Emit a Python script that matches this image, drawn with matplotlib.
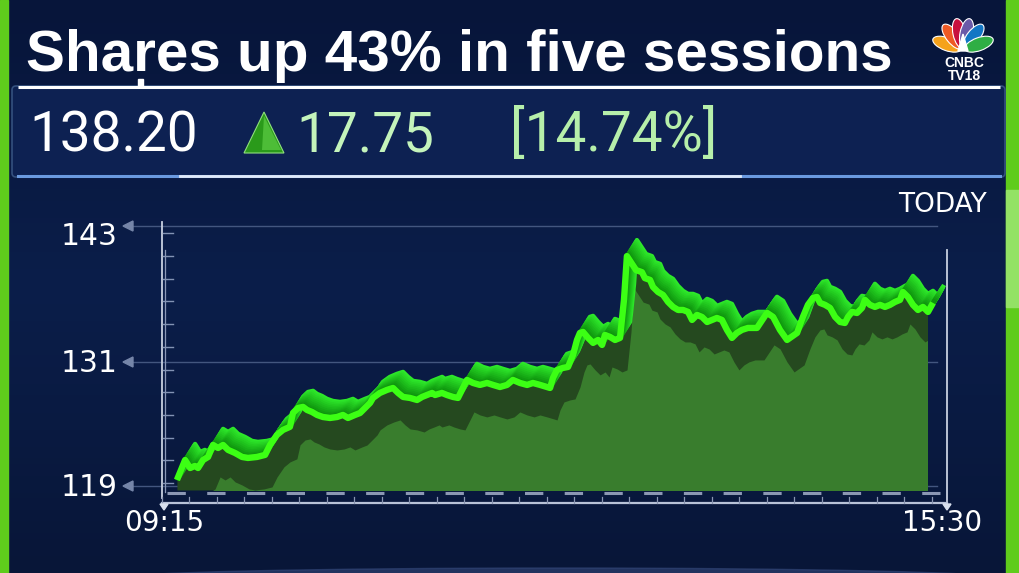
import numpy as np
import matplotlib
matplotlib.use("Agg")
import matplotlib.pyplot as plt
from matplotlib.patches import Rectangle, Polygon, Ellipse, FancyBboxPatch
from matplotlib.transforms import offset_copy
from matplotlib.colors import to_rgb


TITLE = "Shares up 43% in five sessions"
LAST_PRICE = "138.20"
CHANGE = "17.75"
CHANGE_PCT = "[14.74%]"
PERIOD_LABEL = "TODAY"

Y_TICKS = [119, 131, 143]
X_TICK_LABELS = ["09:15", "15:30"]
SESSION_MINUTES = 375  # 09:15 -> 15:30

# minutes after 09:15
times = [
    6.2, 10.1, 12.5, 14.8, 16.3, 18.7, 21.1, 23.5, 25.9, 28.3,
    30.7, 34.0, 37.4, 40.2, 44.5, 48.4, 50.8, 54.1, 57.0, 60.3,
    61.8, 64.2, 66.6, 68.5, 70.9, 73.3, 76.1, 79.5, 82.9, 85.7,
    88.1, 91.5, 93.9, 96.3, 98.7, 100.1, 103.4, 106.8, 109.7, 112.1,
    114.5, 117.8, 121.2, 123.6, 126.0, 128.4, 129.8, 133.1, 135.5, 138.4,
    140.8, 143.2, 145.1, 148.0, 151.3, 154.7, 157.6, 160.9, 164.3, 167.1,
    170.5, 173.9, 176.7, 180.1, 183.4, 184.9, 186.3, 188.2, 191.1, 193.5,
    195.9, 197.8, 199.2, 200.7, 203.1, 205.5, 207.9, 209.8, 211.2, 213.6,
    216.0, 218.4, 220.3, 221.7, 226.1, 228.9, 230.3, 232.8, 234.2, 236.6,
    239.0, 241.4, 243.8, 246.2, 248.6, 251.0, 252.9, 255.3, 257.7, 260.1,
    262.5, 264.8, 267.2, 269.6, 272.0, 274.4, 276.8, 279.7, 284.0, 288.8,
    291.7, 295.0, 298.4, 303.2, 306.0, 308.4, 310.8, 312.7, 314.2, 316.6,
    319.0, 321.4, 323.8, 326.1, 327.6, 329.5, 331.9, 334.3, 335.7, 338.1,
    340.5, 342.9, 345.3, 347.7, 350.1, 352.5, 353.9, 356.3, 358.7, 361.1,
    363.5, 365.9, 368.3,
]

prices = [
    119.53, 121.37, 120.63, 120.82, 120.63, 121.37, 121.65, 122.76, 122.48, 122.76,
    122.30, 122.02, 121.65, 121.56, 121.65, 121.84, 122.76, 123.69, 124.15, 124.43,
    125.72, 126.17, 126.27, 125.99, 125.80, 125.53, 125.34, 125.25, 125.34, 125.53,
    125.25, 125.53, 125.71, 126.17, 126.64, 127.10, 127.56, 127.84, 128.02, 127.56,
    127.19, 127.10, 126.91, 127.19, 127.37, 127.56, 127.37, 127.56, 127.37, 127.19,
    127.10, 128.02, 128.76, 128.48, 128.30, 128.48, 128.30, 128.11, 128.30, 128.76,
    128.48, 128.30, 128.48, 128.30, 128.11, 128.02, 128.94, 129.68, 129.87, 129.96,
    131.07, 132.45, 133.10, 133.19, 132.64, 132.18, 132.45, 131.99, 132.91, 132.73,
    132.45, 132.64, 136.15, 140.19, 138.90, 138.71, 138.16, 137.99, 137.34, 136.88,
    136.61, 135.96, 135.50, 135.22, 135.22, 135.04, 134.30, 134.76, 134.57, 134.11,
    134.30, 134.48, 134.30, 133.38, 132.64, 133.10, 133.38, 133.56, 133.56, 134.95,
    134.58, 133.38, 132.45, 133.10, 134.58, 135.69, 136.33, 136.42, 135.87, 135.69,
    135.41, 134.58, 134.11, 134.02, 134.58, 135.04, 134.94, 135.41, 136.15, 135.69,
    135.50, 135.69, 135.50, 135.69, 135.96, 136.15, 136.88, 136.42, 135.69, 135.22,
    135.50, 135.04, 135.87,
]

W, H = 1019, 573
LINE_GREEN = "#3cff14"
SHADOW_GREEN = "#25491f"
FILL_GREEN = "#397d2d"
PALE_GREEN = "#c4f4bb"
SIDE_GREEN = "#5fcc1c"


def draw_frame(bg):
    # soft vertical gradient background
    top = np.array(to_rgb("#07153a"))
    mid = np.array(to_rgb("#0b1e4a"))
    bot = np.array(to_rgb("#081638"))
    rows = []
    for k in range(100):
        f = k / 99
        if f < 0.5:
            rows.append(top + (mid - top) * (f / 0.5))
        else:
            rows.append(mid + (bot - mid) * ((f - 0.5) / 0.5))
    grad = np.array(rows)[:, None, :]
    bg.imshow(grad, extent=[0, W, H, 0], aspect="auto", zorder=0)

    # green side borders
    bg.add_patch(Rectangle((0, 0), 8, H, color=SIDE_GREEN, zorder=1))
    bg.add_patch(Rectangle((1006, 0), 13, H, color=SIDE_GREEN, zorder=1))
    bg.add_patch(Rectangle((1006, 190), 13, 117, color="#93e265", zorder=1))

    # faint glow at the bottom
    bg.add_patch(Ellipse((560, 578), 880, 20, color="#34487a", alpha=0.6, zorder=1))


def draw_title(bg):
    bg.text(26, 71, TITLE, color="white", fontsize=42, fontweight="bold",
            family=["Liberation Sans", "DejaVu Sans"], va="baseline", ha="left", zorder=5)

    # CNBC peacock
    base_x, base_y = 963, 50
    feathers = [
        (160, "#f5a21b"),
        (128, "#ee5a24"),
        (102, "#c8103e"),
        (78, "#6a5aa8"),
        (52, "#1276c4"),
        (20, "#2fae44"),
    ]
    for ang, col in feathers:
        a = np.radians(ang)
        cx = base_x + 17 * np.cos(a)
        cy = base_y - 17 * np.sin(a)
        bg.add_patch(Ellipse((cx, cy), 30, 13, angle=-ang, facecolor=col,
                             edgecolor="white", linewidth=0.8, zorder=5))
    bg.add_patch(Polygon([[958, 51], [968, 51], [963, 34]], closed=True,
                         color="white", zorder=6))
    bg.text(964, 67, "CNBC", color="white", fontsize=10, fontweight="bold",
            family=["Liberation Sans", "DejaVu Sans"], ha="center", va="baseline", zorder=6)
    bg.text(964, 80, "TV18", color="white", fontsize=10, fontweight="bold",
            family=["Liberation Sans", "DejaVu Sans"], ha="center", va="baseline", zorder=6)


def draw_price_box(bg):
    box = FancyBboxPatch((12, 86), 993, 91, boxstyle="round,pad=0,rounding_size=4",
                         facecolor="#0d2152", edgecolor="#34507e", linewidth=1.2, zorder=2)
    bg.add_patch(box)
    bg.plot([18, 1000], [86.5, 86.5], color="white", linewidth=2.2, zorder=3,
            solid_capstyle="butt")
    bg.plot([18, 1000], [176, 176], color="#6a9ae0", linewidth=2.2, zorder=3)
    bg.plot([180, 740], [176, 176], color="white", linewidth=2.0, alpha=0.8, zorder=3)
    bg.add_patch(Rectangle((138, 79), 5, 8, color="white", zorder=3))

    price_font = ["Roboto", "DejaVu Sans"]
    bg.text(29, 151, LAST_PRICE, color="white", fontsize=39.5, family=price_font,
            ha="left", va="baseline", zorder=5)

    # up triangle
    bg.add_patch(Polygon([[244, 153], [284, 153], [264, 112]], closed=True,
                         facecolor="#2a9a1a", edgecolor="#8fe07c", linewidth=0.8, zorder=5))
    bg.add_patch(Polygon([[262, 150], [281, 150], [264, 116]], closed=True,
                         facecolor="#5ccc44", alpha=0.7, zorder=6))

    bg.text(296, 151, CHANGE, color=PALE_GREEN, fontsize=39.5, family=price_font,
            ha="left", va="baseline", zorder=5)
    bg.text(510, 151, CHANGE_PCT, color="#b6efaa", fontsize=39.5, family=price_font,
            ha="left", va="baseline", zorder=5)


def draw_axes_decor(bg):
    label_font = ["DejaVu Sans"]
    y_pix = {143: 226, 131: 362, 119: 486}
    baselines = {143: 245, 131: 372, 119: 496}
    for value in Y_TICKS:
        y = y_pix[value]
        bg.plot([133, 937], [y, y], color="#43567f", linewidth=1.0, zorder=2)
        bg.add_patch(Polygon([[123, y], [133, y - 5], [133, y + 5]], closed=True,
                             color="#7585a8", zorder=3))
        bg.text(118, baselines[value], str(value), color="white", fontsize=21.5,
                family=label_font, ha="right", va="baseline", zorder=5)

    # left axis with minor ticks
    bg.plot([162, 162], [222, 498], color="#c8d0e0", linewidth=1.3, zorder=3)
    bg.plot([165, 165], [250, 492], color="#8a98b8", linewidth=0.9, zorder=3)
    for k in range(12):
        y = 233.3 + k * 22.7
        bg.plot([163, 173], [y, y], color="#8393b4", linewidth=1.0, zorder=3)

    # right axis
    bg.plot([947, 947], [250, 505], color="#c8d0e0", linewidth=1.3, zorder=3)

    # dashed baseline and ruler
    bg.plot([167, 940], [493, 493], color="#8b97b3", linewidth=2.2,
            dashes=(6, 7), zorder=3)
    bg.plot([162, 947], [503, 503], color="#b8c2d8", linewidth=1.6, zorder=3)
    for k in range(29):
        x = 162 + k * 27.5
        bg.plot([x, x], [497, 503], color="#8a96b3", linewidth=0.9, zorder=3)
    for x in (164, 947):
        bg.add_patch(Polygon([[x - 4, 504], [x + 4, 504], [x, 510]], closed=True,
                             color="#d8e0ee", zorder=4))

    bg.text(164, 531, X_TICK_LABELS[0], color="white", fontsize=20, family=label_font,
            ha="center", va="baseline", zorder=5)
    bg.text(942, 531, X_TICK_LABELS[1], color="white", fontsize=20, family=label_font,
            ha="center", va="baseline", zorder=5)
    bg.text(987, 212, PERIOD_LABEL, color="white", fontsize=19, family=label_font,
            ha="right", va="baseline", zorder=5)


def draw_line(fig, ax):
    t = np.array(times)
    p = np.array(prices)
    bottom = 118.6
    clip_end = 365.4  # area stops a little before the last price

    # dark shadow under the ribbon
    dark = ax.fill_between(t, p, bottom, color=SHADOW_GREEN, linewidth=0, zorder=1)
    dark.set_clip_path(Rectangle((0, bottom), clip_end, 30, transform=ax.transData))

    # lighter area, pushed down-right
    shifted = offset_copy(ax.transData, fig=fig, x=7, y=-32, units="dots")
    area = ax.fill_between(t, p, bottom - 5, color=FILL_GREEN, linewidth=0,
                           transform=shifted, zorder=2)
    area.set_clip_path(Rectangle((0, bottom), clip_end, 30, transform=ax.transData))

    # extruded ribbon behind the line (up-right)
    steps = 10
    back = np.array(to_rgb("#2ee82a"))
    front = np.array(to_rgb("#0d930d"))
    for k in range(steps, 0, -1):
        f = (k - 1) / (steps - 1)
        col = front + (back - front) * f
        tr = offset_copy(ax.transData, fig=fig, x=1.0 * k, y=1.6 * k, units="dots")
        ax.plot(t, p, color=col, linewidth=3.2, transform=tr,
                solid_joinstyle="round", zorder=3)

    ax.plot(t, p, color=LINE_GREEN, linewidth=4.6, solid_joinstyle="round",
            solid_capstyle="butt", zorder=4)


def main():
    fig = plt.figure(figsize=(W / 100, H / 100), dpi=100)

    bg = fig.add_axes([0, 0, 1, 1])
    bg.set_xlim(0, W)
    bg.set_ylim(H, 0)
    bg.axis("off")

    draw_frame(bg)
    draw_title(bg)
    draw_price_box(bg)
    draw_axes_decor(bg)

    # chart area: 09:15 at x=164px, 15:30 at x=947px; 119 at y=485.7px, 143 at y=225.7px
    ax = fig.add_axes([164 / W, (H - 490) / H, (947 - 164) / W, (490 - 204) / H])
    ax.set_xlim(0, SESSION_MINUTES)
    ax.set_ylim(118.6, 145.0)
    ax.axis("off")
    ax.patch.set_alpha(0)

    draw_line(fig, ax)

    fig.savefig("out.png", dpi=100)
    plt.close(fig)


if __name__ == "__main__":
    main()
